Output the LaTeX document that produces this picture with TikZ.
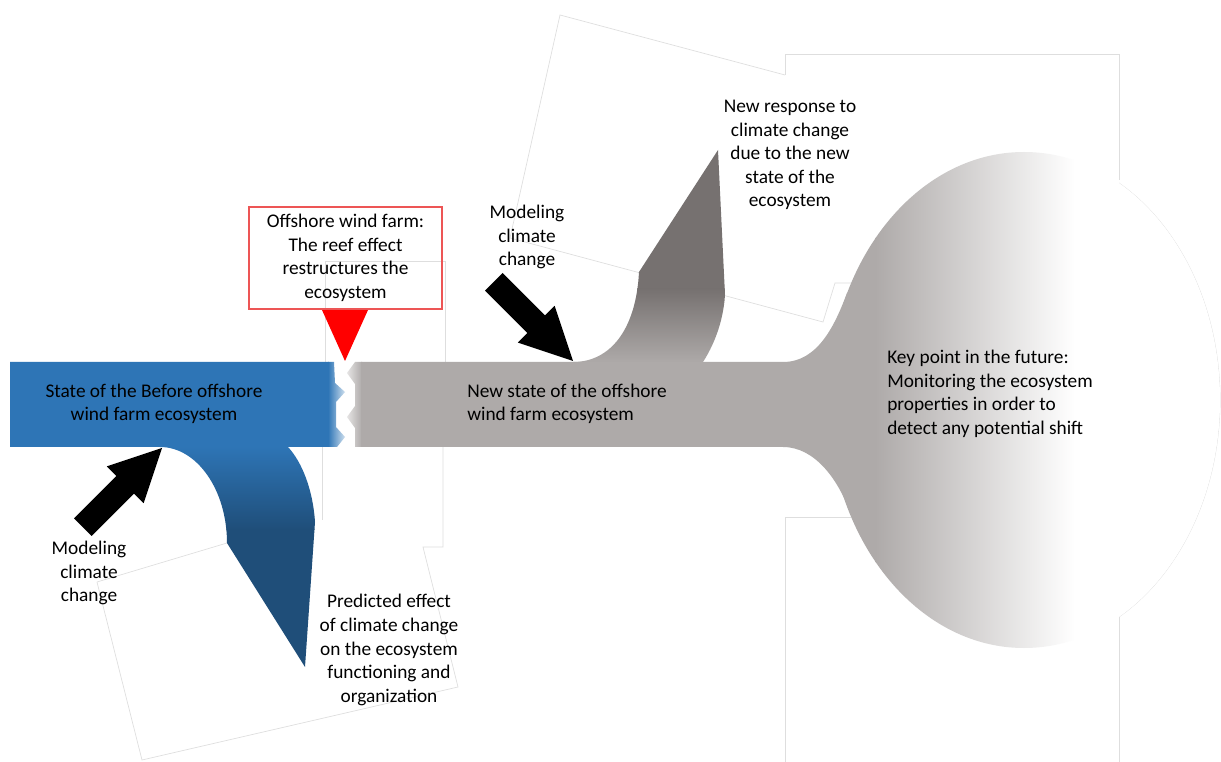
\documentclass[tikz,border=0pt]{standalone}
\usepackage{fontspec}
\setmainfont{Carlito}
\definecolor{bandblue}{RGB}{46,117,182}
\definecolor{darkblue}{RGB}{31,78,121}
\definecolor{bandgray}{RGB}{174,170,169}
\definecolor{darkgraytwo}{RGB}{118,113,112}
\definecolor{boxred}{RGB}{237,85,85}
\definecolor{faint}{RGB}{222,222,222}
\begin{document}
\begin{tikzpicture}[x=0.75pt,y=-0.75pt,
  faintline/.style={draw=faint, line width=0.5pt},
  lbl/.style={font=\fontsize{14.5}{17.7}\selectfont, text=black, inner sep=0pt, align=center},
  lbll/.style={lbl, align=left, anchor=west}]
\useasboundingbox (0,0) rectangle (1221,762);
\fill[white] (0,0) rectangle (1221,762);

% faint outlines of text boxes
\draw[faintline] (97,582) -- (227,543);
\draw[faintline] (97,582) -- (142,760) -- (458,687) -- (423,547) -- (443,547) -- (443,447);
\draw[faintline] (322,447) -- (322,520);
\draw[faintline] (325,362) -- (325,261) -- (445,261) -- (445,362);
\draw[faintline] (785,75) -- (560,15) -- (510,238) -- (823,322) -- (835,283) -- (852,283);
\draw[faintline] (785,75) -- (785,54) -- (1119,54) -- (1119,180);
\draw[faintline] (1119,614) -- (1119,762);
\draw[faintline] (851,517) -- (785,517) -- (785,762);
\begin{scope}
  \clip (1119,0) rectangle (1221,762);
  \draw[faintline] (1024,400) ellipse [x radius=196, y radius=248];
\end{scope}

% gray band with neck
\begin{scope}
  \clip (355,362) -- (783,362) .. controls (818,362) and (835,325) .. (847,293) -- (900,293) -- (900,510) -- (849,510) .. controls (838,480) and (815,447) .. (783,447) -- (355,447) -- (355,428) -- (347,417) -- (355,406) -- (355,384) -- (347,373) -- cycle;
  \shade[left color=white, right color=bandgray] (340,280) rectangle (362,530);
  \fill[bandgray] (361,280) rectangle (910,530);
\end{scope}
% ellipse
\begin{scope}
  \clip (1024,400) ellipse [x radius=196, y radius=248];
  \fill[bandgray] (820,140) rectangle (876,660);
  \shade[left color=bandgray, right color=white] (875,140) rectangle (1075,660);
  \fill[white] (1074,140) rectangle (1225,660);
\end{scope}

% blue band
\begin{scope}
  \clip (10,362) -- (334,362) -- (335,383) -- (345,392) -- (336,402) -- (336,427) -- (345,437) -- (337,447) -- (10,447) -- cycle;
  \fill[bandblue] (0,350) rectangle (329,460);
  \shade[left color=bandblue, right color=white] (328,350) rectangle (350,460);
\end{scope}

% blue branch
\begin{scope}
  \clip (160,447) .. controls (197,447) and (227,490) .. (227,543) -- (305,667) -- (315,522) .. controls (313,490) and (302,462) .. (288,447) -- cycle;
  \shade[top color=bandblue, bottom color=darkblue] (150,446) rectangle (320,530);
  \fill[darkblue] (150,529) rectangle (320,670);
\end{scope}

% gray branch
\begin{scope}
  \clip (573,362) .. controls (610,362) and (636,330) .. (639,272) -- (718,150) -- (725,295) .. controls (723,325) and (712,348) .. (703,362) -- cycle;
  \fill[darkgraytwo] (560,140) rectangle (730,290);
  \shade[top color=darkgraytwo, bottom color=bandgray] (560,289) rectangle (730,363);
\end{scope}

% black block arrows
\fill[black] (162,448) -- (143.6,503.2) -- (134,493.6) -- (91.6,536) -- (74,518.4) -- (116.4,476) -- (106.8,466.4) -- cycle;
\fill[black] (573,361) -- (517.8,342.6) -- (527.4,333) -- (485,290.6) -- (502.6,273) -- (545,315.4) -- (554.6,305.8) -- cycle;

% red pointer
\fill[red] (322,310) -- (368,310) -- (345,361) -- cycle;

% labels
\node[lbl, draw=boxred, line width=0.9pt, minimum width=144.75pt, minimum height=76.5pt] (reef) at (345.5,258) {Offshore wind farm:\\The reef effect\\restructures the\\ecosystem};
\node[lbl] (before) at (154,404) {State of the Before offshore\\wind farm ecosystem};
\node[lbl] (modelA) at (89,573) {Modeling\\climate\\change};
\node[lbl] (modelB) at (527,237) {Modeling\\climate\\change};
\node[lbl] (predicted) at (389,650) {Predicted effect\\of climate change\\on the ecosystem\\functioning and\\organization};
\node[lbl] (response) at (790,155) {New response to\\climate change\\due to the new\\state of the\\ecosystem};
\node[lbll] (newstate) at (467,404) {New state of the offshore\\wind farm ecosystem};
\node[lbll] (keypoint) at (887,394) {Key point in the future:\\Monitoring the ecosystem\\properties in order to\\detect any potential shift};
\end{tikzpicture}
\end{document}
